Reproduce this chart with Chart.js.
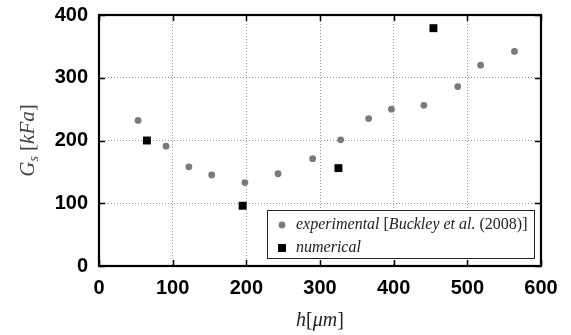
<!DOCTYPE html>
<html><head><meta charset="utf-8">
<script src="https://cdn.jsdelivr.net/npm/chart.js@4/dist/chart.umd.min.js"></script>
<style>html,body{margin:0;padding:0;background:#fff}#wrap{width:571px;height:335px}</style>
</head><body><div id="wrap"><canvas id="c" width="571" height="335"></canvas></div>
<script>
// ---- data ----
const expH = [53, 91, 122, 153, 198, 243, 290, 328, 366, 397, 441, 487, 518, 564];
const expG = [232, 191, 158, 145, 133, 147, 171, 201, 235, 250, 256, 286, 320, 342];
const numH = [65, 195, 325, 454];
const numG = [200, 96, 156, 379];
const xTicks = [0, 100, 200, 300, 400, 500, 600];
const yTicks = [0, 100, 200, 300, 400];
const expLabel = [['experimental ', 'i'], ['[', 'r'], ['Buckley et al.', 'i'], [' (2008)]', 'r']];
const numLabel = [['numerical', 'i']];
const xTitle = [['h', 'i'], ['[', 'r'], ['μm', 'i'], [']', 'r']];
const yTitle = [['G', 'i'], ['s', 'sub'], [' [', 'r'], ['kFa', 'i'], [']', 'r']];

const SERIF = '"Liberation Serif", "DejaVu Serif", serif';

function fontFor(s, size) {
  if (s === 'i') return 'italic ' + size + 'px ' + SERIF;
  if (s === 'sub') return 'italic ' + Math.round(size * 0.68) + 'px ' + SERIF;
  return size + 'px ' + SERIF;
}
function richWidth(ctx, segs, size) {
  let w = 0;
  for (const [t, s] of segs) {
    ctx.font = fontFor(s, size);
    w += ctx.measureText(t).width;
  }
  return w;
}
function drawRich(ctx, segs, x, y, size) {
  ctx.textBaseline = 'middle';
  ctx.textAlign = 'left';
  let cx = x;
  for (const [t, s] of segs) {
    ctx.font = fontFor(s, size);
    const dy = s === 'sub' ? size * 0.28 : 0;
    ctx.fillText(t, cx, y + dy);
    cx += ctx.measureText(t).width;
  }
}

const decor = {
  id: 'decor',
  beforeDatasetsDraw(chart) {
    const { ctx, chartArea: a, scales } = chart;
    ctx.save();
    ctx.strokeStyle = '#000';
    ctx.lineWidth = 1.5;
    const tl = 6;
    ctx.beginPath();
    for (const v of xTicks) {
      const px = Math.round(scales.x.getPixelForValue(v)) + 0.5;
      ctx.moveTo(px, a.bottom); ctx.lineTo(px, a.bottom - tl);
      ctx.moveTo(px, a.top); ctx.lineTo(px, a.top + tl);
    }
    for (const v of yTicks) {
      const py = Math.round(scales.y.getPixelForValue(v)) + 0.5;
      ctx.moveTo(a.left, py); ctx.lineTo(a.left + tl, py);
      ctx.moveTo(a.right, py); ctx.lineTo(a.right - tl, py);
    }
    ctx.stroke();
    ctx.lineWidth = 2.2;
    ctx.strokeRect(a.left, a.top, a.right - a.left, a.bottom - a.top);
    ctx.restore();
  },
  afterDraw(chart) {
    const { ctx, chartArea: a } = chart;
    ctx.save();
    ctx.fillStyle = '#222';
    // x title
    const xs = 20;
    const xw = richWidth(ctx, xTitle, xs);
    drawRich(ctx, xTitle, (a.left + a.right) / 2 - xw / 2, 321, xs);
    // y title
    const ys = 21;
    const yw = richWidth(ctx, yTitle, ys);
    ctx.translate(28, (a.top + a.bottom) / 2);
    ctx.rotate(-Math.PI / 2);
    ctx.fillStyle = '#444';
    drawRich(ctx, yTitle, -yw / 2, 0, ys);
    ctx.restore();

    // legend
    ctx.save();
    const bx = 267, by = 210, bw = 267, bh = 48;
    ctx.fillStyle = '#fff';
    ctx.fillRect(bx, by, bw, bh);
    ctx.strokeStyle = '#222';
    ctx.lineWidth = 1;
    ctx.strokeRect(bx + 0.5, by + 0.5, bw, bh);
    const ds = chart.data.datasets;
    const rows = [[ds[0], expLabel, 225], [ds[1], numLabel, 248]];
    for (const [d, lab, y] of rows) {
      ctx.fillStyle = d.pointBackgroundColor;
      ctx.strokeStyle = d.pointBorderColor;
      Chart.helpers.drawPoint(ctx, { pointStyle: d.pointStyle, radius: d.pointRadius, rotation: 0, borderWidth: 0 }, 282, y);
      ctx.fillStyle = '#222';
      drawRich(ctx, lab, 296, y, 16);
    }
    ctx.restore();
  }
};

new Chart(document.getElementById('c'), {
  type: 'scatter',
  data: {
    datasets: [
      {
        label: 'experimental [Buckley et al. (2008)]',
        data: expH.map((h, i) => ({ x: h, y: expG[i] })),
        pointStyle: 'circle', pointRadius: 3.4,
        pointBackgroundColor: '#7a7a7a', pointBorderColor: '#7a7a7a', pointBorderWidth: 0
      },
      {
        label: 'numerical',
        data: numH.map((h, i) => ({ x: h, y: numG[i] })),
        pointStyle: 'rect', pointRadius: 5.6,
        pointBackgroundColor: '#000', pointBorderColor: '#000', pointBorderWidth: 0
      }
    ]
  },
  options: {
    responsive: false,
    animation: false,
    devicePixelRatio: 1,
    layout: { padding: { top: 15, right: 30, left: 0, bottom: 0 } },
    plugins: { legend: { display: false }, tooltip: { enabled: false } },
    scales: {
      x: {
        type: 'linear', min: 0, max: 600,
        afterBuildTicks: s => { s.ticks = xTicks.map(v => ({ value: v })); },
        afterFit: s => { s.height = 69; s.paddingLeft = 0; s.paddingRight = 0; },
        grid: { color: '#9a9a9a', lineWidth: 1, drawTicks: false },
        border: { display: false, dash: [1, 2] },
        ticks: { color: '#000', padding: 10, maxRotation: 0, font: { family: '"Liberation Sans", Arial, sans-serif', size: 20, weight: 'bold' } }
      },
      y: {
        type: 'linear', min: 0, max: 400,
        afterBuildTicks: s => { s.ticks = yTicks.map(v => ({ value: v })); },
        afterFit: s => { s.width = 99; s.paddingTop = 0; s.paddingBottom = 0; },
        grid: { color: '#9a9a9a', lineWidth: 1, drawTicks: false },
        border: { display: false, dash: [1, 2] },
        ticks: { color: '#000', padding: 11, font: { family: '"Liberation Sans", Arial, sans-serif', size: 20, weight: 'bold' } }
      }
    }
  },
  plugins: [decor]
});
</script></body></html>
